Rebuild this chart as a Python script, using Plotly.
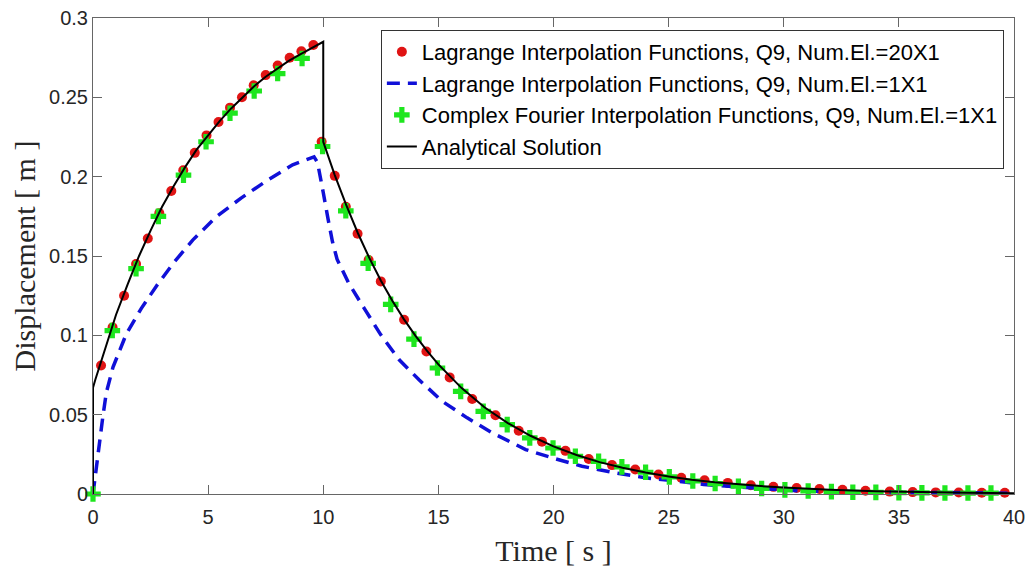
import plotly.graph_objects as go

# ---------------- data ----------------
t_analytic = [0, 0, 0.1, 0.25, 0.5, 1, 1.5, 2, 2.5, 3, 3.5, 4, 4.5, 5, 5.5, 6, 6.5, 7, 7.5, 8,
              8.5, 9, 9.5, 10, 10, 10.5, 11, 11.5, 12, 12.5, 13, 13.5, 14, 14.5, 15, 16, 17, 18,
              19, 20, 21, 22, 23, 24, 25, 26, 27, 28, 29, 30, 32, 34, 36, 38, 40]
u_analytic = [0, 0.067, 0.072, 0.079, 0.091, 0.113, 0.132, 0.150, 0.166, 0.181, 0.194, 0.206,
              0.217, 0.226, 0.235, 0.243, 0.250, 0.257, 0.263, 0.268, 0.273, 0.277, 0.281, 0.285,
              0.222, 0.201, 0.182, 0.1645, 0.1488, 0.1346, 0.1218, 0.1102, 0.0998, 0.0903, 0.0817,
              0.0669, 0.0547, 0.0448, 0.0367, 0.0300, 0.0246, 0.0201, 0.0165, 0.0135, 0.0111,
              0.0090, 0.0074, 0.0061, 0.0050, 0.0041, 0.0027, 0.0018, 0.0012, 0.0008, 0.0005]

t_lag20 = [0.35, 0.85, 1.35, 1.87, 2.38, 2.88, 3.4, 3.92, 4.42, 4.93, 5.45, 5.95, 6.47, 6.98,
           7.5, 8.02, 8.54, 9.05, 9.57, 9.93, 10.5, 10.98, 11.49, 11.97, 12.5, 13.51, 14.48,
           15.49, 16.47, 17.48, 18.49, 19.5, 20.52, 21.53, 22.54, 23.55, 24.56, 25.55, 26.56,
           27.57, 28.57, 29.55, 30.56, 31.55, 32.55, 33.55, 34.6, 35.6, 36.6, 37.6, 38.6, 39.6]
u_lag20 = [0.081, 0.105, 0.125, 0.145, 0.161, 0.177, 0.191, 0.204, 0.215, 0.226, 0.2345, 0.2435,
           0.250, 0.2576, 0.264, 0.270, 0.275, 0.279, 0.283, 0.222, 0.2005, 0.181, 0.164, 0.1475,
           0.134, 0.1098, 0.0898, 0.0735, 0.0599, 0.0496, 0.0399, 0.033, 0.0272, 0.0221, 0.0182,
           0.0154, 0.0123, 0.0102, 0.0087, 0.007, 0.0055, 0.0045, 0.0038, 0.0031, 0.0026, 0.002,
           0.0015, 0.0012, 0.001, 0.0009, 0.0008, 0.0008]

t_lag1 = [0, 0.1, 0.22, 0.43, 0.58, 0.87, 1.45, 2.1, 2.75, 3.54, 4.33, 5.35, 6.43, 7.5, 8.67,
          9.3, 9.6, 9.75, 9.85, 10.0, 10.2, 10.4, 10.6, 11.1, 11.78, 12.5, 13.3, 14.16, 15.17,
          16.25, 17.34, 18.79, 19.94, 21.24, 22.69, 23.99, 25.43, 26.52, 27.6, 29.48, 30.6,
          31.6, 34.6, 35.6, 36.6, 40]
u_lag1 = [0, 0.012, 0.024, 0.049, 0.064, 0.080, 0.101, 0.117, 0.131, 0.1464, 0.160, 0.1747,
          0.1865, 0.197, 0.2075, 0.211, 0.2125, 0.209, 0.202, 0.190, 0.174, 0.159, 0.148, 0.133,
          0.117, 0.1003, 0.0846, 0.072, 0.0584, 0.048, 0.0385, 0.028, 0.0228, 0.0175, 0.0133,
          0.0102, 0.008, 0.006, 0.0049, 0.0028, 0.002, 0.0017, 0.0013, 0.001, 0.0008, 0.0005]

t_fourier = [0, 0.84, 1.87, 2.84, 3.93, 4.91, 5.95, 7.0, 8.02, 9.08, 9.97, 10.98, 11.95, 12.93,
             13.94, 14.96, 15.97, 16.95, 17.99, 18.97, 19.98, 20.95, 21.96, 22.97, 24.0, 25.03,
             26.05, 27.02, 28.03, 29.04, 30.05, 31.06, 32.07, 33.0, 34.0, 35.0, 36.0, 37.0,
             38.0, 39.0]
u_fourier = [0, 0.103, 0.142, 0.175, 0.201, 0.222, 0.240, 0.254, 0.265, 0.2745, 0.219, 0.1785,
             0.1454, 0.1195, 0.0976, 0.0794, 0.0647, 0.0521, 0.0437, 0.0354, 0.029, 0.0238,
             0.0206, 0.0171, 0.0137, 0.0108, 0.0082, 0.0066, 0.0049, 0.0035, 0.0026, 0.0019,
             0.0015, 0.0011, 0.001, 0.0008, 0.0007, 0.0006, 0.0006, 0.0006]

names = ["Lagrange Interpolation Functions, Q9, Num.El.=20X1",
         "Lagrange Interpolation Functions, Q9, Num.El.=1X1",
         "Complex Fourier Interpolation Functions, Q9, Num.El.=1X1",
         "Analytical Solution"]

x_ticks = [0, 5, 10, 15, 20, 25, 30, 35, 40]
y_ticks = [0, 0.05, 0.1, 0.15, 0.2, 0.25, 0.3]

# ---------------- figure ----------------
fig = go.Figure()
fig.add_trace(go.Scatter(x=t_lag20, y=u_lag20, mode="markers", name=names[0],
                         marker=dict(symbol="circle", size=10, color="#e01414"),
                         cliponaxis=False))
fig.add_trace(go.Scatter(x=t_lag1, y=u_lag1, mode="lines", name=names[1],
                         line=dict(color="#1010d8", width=3.5, dash="13px,8px")))
fig.add_trace(go.Scatter(x=t_fourier, y=u_fourier, mode="markers", name=names[2],
                         marker=dict(symbol="cross", size=13, color="#1ee61e"),
                         cliponaxis=False))
fig.add_trace(go.Scatter(x=t_analytic, y=u_analytic, mode="lines", name=names[3],
                         line=dict(color="black", width=2)))

axis_common = dict(showline=True, linecolor="#666666", linewidth=1, mirror="ticks",
                   ticks="inside", ticklen=9, tickcolor="#666666", showgrid=False,
                   zeroline=False,
                   tickfont=dict(family="Liberation Sans, Arial", size=20, color="#262626"))

fig.update_xaxes(range=[0, 40], tickvals=x_ticks, ticklabelstandoff=5,
                 title=dict(text="Time [ s ]", standoff=12,
                            font=dict(family="Liberation Serif, Times New Roman", size=30,
                                      color="#262626")),
                 **axis_common)
fig.update_yaxes(range=[0, 0.3], tickvals=y_ticks,
                 title=dict(text="Displacement [ m ]", standoff=4,
                            font=dict(family="Liberation Serif, Times New Roman", size=30,
                                      color="#262626")),
                 **axis_common)

fig.update_layout(
    width=1031, height=567,
    margin=dict(l=93, r=17, t=18, b=73, autoexpand=False),
    paper_bgcolor="white", plot_bgcolor="white",
    showlegend=True,
    legend=dict(x=0.989, y=0.975, xanchor="right", yanchor="top",
                bgcolor="white", bordercolor="#333333", borderwidth=1,
                font=dict(family="Liberation Sans, Arial", size=22, color="black"),
                itemwidth=30, tracegroupgap=0),
)

fig.write_html("out.html")
